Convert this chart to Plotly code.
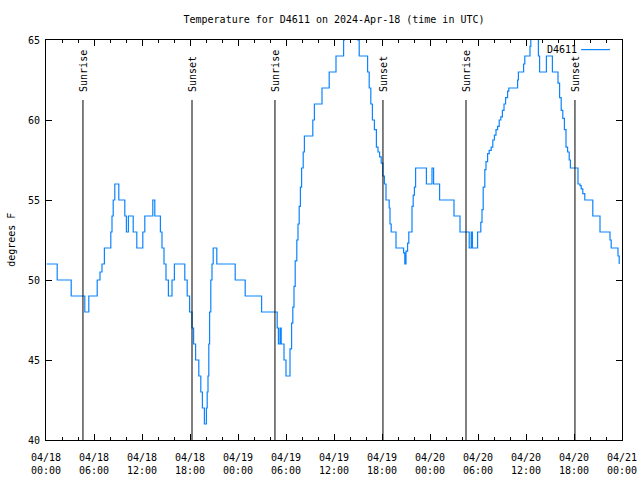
import pandas as pd
import plotly.graph_objects as go

# ---- data ----
base = pd.Timestamp("2024-04-18 00:00")
hours = [0.1, 1.4, 3.15, 4.85, 5.35, 6.4, 6.75, 7.0, 7.3, 8.1, 8.25, 8.4, 8.6, 9.1, 9.85, 10.05,
         10.3, 10.9, 11.35, 12.1, 12.35, 13.35, 13.6, 14.3, 14.5, 14.75, 15.0, 15.3, 15.75, 16.05,
         17.35, 17.65, 17.95, 18.25, 18.45, 18.7, 19.1, 19.35, 19.55, 19.8, 20.05, 20.15, 20.25,
         20.35, 20.45, 20.6, 20.75, 20.9, 21.35, 23.65, 24.9, 26.95,
         28.9, 29.05, 29.25, 29.4, 29.75, 30.0, 30.5, 30.7, 30.85, 31.0, 31.15, 31.35, 31.5, 31.65,
         31.8, 31.95, 32.15, 32.3, 33.35, 33.55, 34.5, 35.4, 36.25, 37.2, 37.3, 38.95, 39.15,
         40.2, 40.4, 40.6, 40.8, 41.05, 41.3, 41.5, 41.7, 41.9, 42.1, 42.3, 42.5, 42.9, 43.0, 43.15,
         43.75, 44.7, 44.85, 45.0, 45.2, 45.35, 45.75, 45.9, 46.05, 46.2, 47.55, 48.25, 48.45,
         49.2, 51.0, 51.75, 52.9, 53.15, 53.3, 53.95, 54.35, 54.5, 54.65, 54.85, 55.0, 55.2, 55.4,
         55.65, 55.85, 56.05, 56.25, 56.45, 56.65, 56.85, 57.05, 57.25, 57.45, 57.7, 57.85, 58.95,
         59.05, 59.7, 59.85, 60.5, 60.6, 61.55, 61.7, 62.55, 63.3, 64.0, 64.2, 64.4, 64.6, 64.8,
         65.0, 65.2, 65.4, 65.55, 66.5, 66.75, 66.9, 67.1, 67.35, 68.35, 69.25, 70.5, 70.65,
         71.5, 71.65]
temps = [51, 50, 49, 48, 49, 50, 50.5, 51, 52, 53, 54, 55, 56, 55, 54, 53,
         54, 53, 52, 53, 54, 55, 54, 53, 52, 51, 50, 49, 50, 51,
         50, 49, 48, 47, 46, 45, 44, 43, 42, 41, 42, 43, 44,
         46, 48, 50, 51, 52, 51, 50, 49, 48,
         47, 46, 47, 46, 45, 44, 45.7, 47.3, 48.3, 49.6, 51.2, 52.5, 53.5, 54.6,
         55.8, 57, 58, 59, 60, 61, 62, 63, 64, 65, 66, 65, 64,
         63, 62, 61, 60, 59.4, 58.3, 58, 57.7, 57.3, 56.5, 56, 55, 54.5, 53.5, 53,
         52, 51.7, 51, 51.8, 52.3, 53, 54.6, 55.3, 55.8, 57, 56, 57, 56,
         55, 54, 53, 52, 53, 52, 53, 53.6, 54.4, 55.8, 56.9, 57.4, 57.9, 58.1,
         58.3, 58.75, 59.06, 59.4, 59.6, 60, 60.2, 60.6, 61, 61.4, 61.8, 62, 62.5,
         63, 63.5, 64, 64.6, 66, 64, 63, 64, 63, 62.3, 61.4, 60.6, 60.1, 59.4,
         58.3, 58, 57.5, 57, 56, 55.9, 55.7, 55.4, 55, 54, 53, 52.5, 52,
         51.5, 51]
sun_labels = ["Sunrise", "Sunset", "Sunrise", "Sunset", "Sunrise", "Sunset"]
sun_hours = [4.62, 18.25, 28.62, 42.12, 52.5, 66.12]
series_name = "D4611"
y_min, y_max = 40, 65
sun_line_top = 61.25

times = [base + pd.Timedelta(hours=h) for h in hours]
sun_times = [base + pd.Timedelta(hours=h) for h in sun_hours]
end = base + pd.Timedelta(hours=72)

FONT = "DejaVu Sans Mono"
BLUE = "#0a84ff"

fig = go.Figure()
fig.add_trace(go.Scatter(x=times, y=temps, mode="lines", name=series_name,
                         line=dict(color=BLUE, width=1.2, shape="hv"),
                         showlegend=False))

for t, lab in zip(sun_times, sun_labels):
    fig.add_shape(type="line", xref="x", yref="y", x0=t, x1=t, y0=y_min, y1=sun_line_top,
                  line=dict(color="black", width=1))
    fig.add_annotation(x=t, y=sun_line_top, xref="x", yref="y", text=lab, textangle=-90,
                       showarrow=False, yanchor="bottom", xanchor="center", yshift=6,
                       font=dict(family=FONT, size=10, color="black"))

# manual gnuplot-style key (text left of sample line)
fig.add_annotation(x=0.926, y=0.976, xref="paper", yref="paper", text=series_name,
                   showarrow=False, xanchor="right", yanchor="middle",
                   font=dict(family=FONT, size=10, color="black"))
fig.add_shape(type="line", xref="paper", yref="paper", x0=0.929, x1=0.979, y0=0.976, y1=0.976,
              line=dict(color=BLUE, width=1.2))

fig.add_annotation(x=-0.061, y=0.5, xref="paper", yref="paper", text="degrees F",
                   textangle=-90, showarrow=False, xanchor="center", yanchor="middle",
                   font=dict(family=FONT, size=10, color="black"))

fig.update_layout(
    width=640, height=480,
    margin=dict(l=46, r=18, t=40, b=40, autoexpand=False),
    paper_bgcolor="white", plot_bgcolor="white",
    font=dict(family=FONT, size=10, color="black"),
    title=dict(text="Temperature for D4611 on 2024-Apr-18 (time in UTC)",
               x=0.5, xref="paper", y=1 - 19 / 480, yanchor="middle",
               font=dict(family=FONT, size=10, color="black")),
)
fig.update_xaxes(type="date", range=[base, end], tick0=base, dtick=6 * 3600 * 1000,
                 tickformat="%m/%d<br>%H:%M", ticks="inside", ticklen=6, tickcolor="black",
                 showline=True, linecolor="black", linewidth=1, mirror="ticks",
                 showgrid=False, zeroline=False, ticklabelstandoff=8, automargin=False,
                 minor=dict(dtick=2 * 3600 * 1000, ticks="inside", ticklen=3, tickcolor="black",
                            showgrid=False),
                 tickfont=dict(family=FONT, size=10, color="black"))
fig.update_yaxes(range=[y_min, y_max], dtick=5, ticks="inside", ticklen=6, tickcolor="black",
                 showline=True, linecolor="black", linewidth=1, mirror="ticks",
                 showgrid=False, zeroline=False, ticklabelstandoff=3, automargin=False,
                 tickfont=dict(family=FONT, size=10, color="black"))

fig.write_html("out.html")
